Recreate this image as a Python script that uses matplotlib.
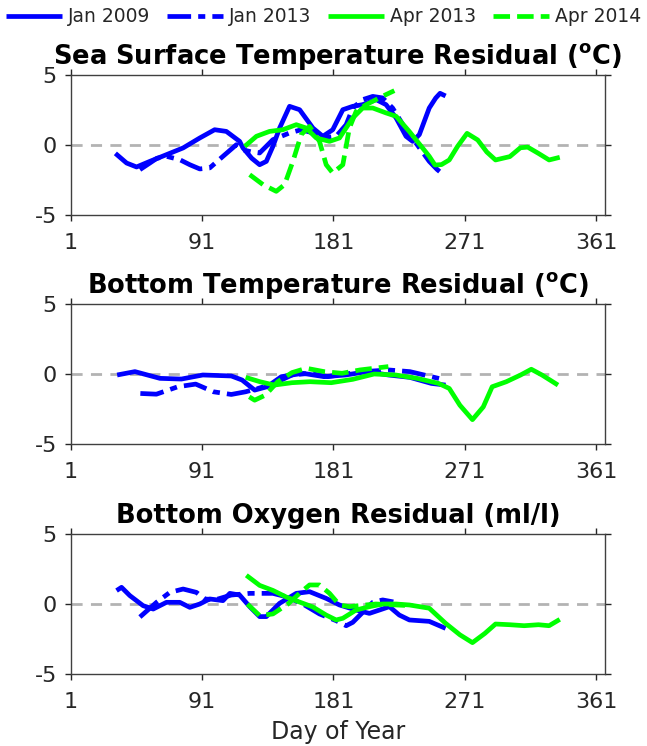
import matplotlib
matplotlib.use("Agg")
import matplotlib.pyplot as plt

# ---------------- data ----------------
xticks = [1, 91, 181, 271, 361]
yticks = [-5, 0, 5]
labels = ["Jan 2009", "Jan 2013", "Apr 2013", "Apr 2014"]
titles = ["Sea Surface Temperature Residual ($^\\mathbf{o}$C)",
          "Bottom Temperature Residual ($^\\mathbf{o}$C)",
          "Bottom Oxygen Residual (ml/l)"]

# Panel 1: sea surface temperature residual
sst_jan09_day = [31.6, 35.5, 39.3, 46.1, 55.2, 66.6, 78.0, 89.4, 99.6, 107.6, 116.7, 119.0,
                 125.0, 130.4, 135.0, 139.5, 144.1, 150.9, 157.8, 166.9, 173.7, 180.5,
                 187.4, 194.2, 201.0, 210.2, 217.0, 223.9, 230.7, 235.2, 239.8, 246.6,
                 251.0, 254.0, 257.8]
sst_jan09_val = [-0.6, -0.95, -1.29, -1.57, -1.17, -0.69, -0.21, 0.50, 1.09, 0.97, 0.26, -0.21,
                 -0.95, -1.41, -1.17, -0.1, 1.21, 2.76, 2.52, 1.21, 0.62, 1.09,
                 2.52, 2.76, 2.88, 3.24, 2.88, 1.93, 0.62, 0.26, 0.74, 2.64,
                 3.35, 3.69, 3.5]

sst_jan13_day = [48.4, 55.2, 60.0, 66.6, 75.7, 82.6, 89.4, 96.2, 105.3, 114.5, 119.0, 125.0,
                 130.4, 139.5, 150.9, 158.9, 166.9, 173.7, 182.8, 189.7, 194.2, 201.0,
                 207.9, 214.7, 221.5, 230.7, 237.5, 246.6, 252.0, 256.6]
sst_jan13_val = [-1.76, -1.29, -0.95, -0.81, -1.05, -1.41, -1.71, -1.64, -0.81, 0.02, -0.34, -0.5,
                 -0.57, 0.38, 0.86, 1.09, 0.86, 0.50, 0.62, 1.45, 2.64, 3.24,
                 3.47, 3.36, 2.64, 1.09, 0.14, -1.17, -1.75, -2.14]

sst_apr13_day = [120.2, 128.2, 137.2, 146.3, 155.5, 162.3, 169.2, 178.3, 185.1, 194.2, 201.0,
                 207.9, 217.0, 223.9, 232.9, 242.0, 246.6, 250.5, 255.0, 260.3, 266.0,
                 272.5, 279.8, 286.0, 292.0, 301.8, 309.0, 314.0, 321.4, 328.7, 336.0]
sst_apr13_val = [-0.1, 0.62, 0.97, 1.09, 1.45, 1.21, 0.50, 0.26, 0.50, 1.93, 2.64,
                 2.64, 2.29, 2.05, 0.97, -0.21, -0.81, -1.43, -1.4, -1.07, -0.1,
                 0.83, 0.36, -0.5, -1.07, -0.83, -0.2, -0.15, -0.6, -1.07, -0.88]

sst_apr14_day = [123.6, 132.7, 141.8, 147.5, 153.2, 158.9, 164.6, 171.4, 176.0, 180.5, 187.4,
                 191.9, 196.5, 203.3, 210.2, 217.0, 222.7]
sst_apr14_val = [-2.12, -2.83, -3.31, -2.83, -1.17, 0.74, 1.33, 0.26, -1.41, -2.0, -1.41,
                 1.21, 2.40, 2.88, 3.24, 3.60, 3.88]

# Panel 2: bottom temperature residual
bt_jan09_day = [32.8, 45.0, 62.1, 76.8, 91.5, 111.0, 118.4, 127.0, 135.5, 145.3, 160.0,
                174.6, 189.3, 204.0, 218.6, 233.3, 248.0, 257.8]
bt_jan09_val = [-0.07, 0.17, -0.31, -0.36, -0.07, -0.14, -0.43, -1.15, -0.91, -0.19, 0.05,
                -0.19, -0.07, 0.17, -0.07, -0.24, -0.67, -0.79]

bt_jan13_day = [48.7, 59.7, 74.4, 86.6, 98.8, 111.0, 120.8, 129.4, 140.4, 152.6, 164.9,
                177.0, 189.3, 201.5, 218.6, 233.3, 248.0, 257.8]
bt_jan13_val = [-1.39, -1.44, -0.91, -0.72, -1.27, -1.46, -1.27, -1.03, -0.67, -0.07, 0.05,
                -0.19, 0.0, 0.17, 0.29, 0.17, -0.19, -0.43]

bt_apr13_day = [120.8, 130.6, 140.4, 152.6, 164.9, 179.5, 194.2, 208.8, 223.6, 238.2, 252.9,
                260.3, 267.6, 276.2, 283.6, 289.7, 299.4, 309.2, 316.5, 323.8, 334.8]
bt_apr13_val = [-0.24, -0.55, -0.79, -0.62, -0.55, -0.62, -0.38, 0.0, -0.07, -0.31, -0.67,
                -1.03, -2.23, -3.26, -2.35, -0.91, -0.55, -0.07, 0.34, -0.07, -0.79]

bt_apr14_day = [123.3, 127.0, 134.3, 142.8, 152.6, 162.4, 174.6, 186.9, 199.1, 208.8, 218.6]
bt_apr14_val = [-1.63, -1.87, -1.51, -0.55, 0.10, 0.41, 0.17, 0.05, 0.29, 0.41, 0.53]

# Panel 3: bottom oxygen residual
ox_jan09_day = [32.4, 35.8, 41.5, 50.6, 57.5, 66.6, 75.7, 82.6, 89.4, 96.2, 105.3, 110.0,
                116.7, 123.6, 130.4, 135.0, 144.1, 155.5, 164.6, 176.0, 185.1, 196.5,
                205.6, 212.5, 219.3, 226.1, 233.0, 246.6, 257.8]
ox_jan09_val = [0.96, 1.19, 0.60, -0.12, -0.36, 0.12, 0.12, -0.24, 0.0, 0.36, 0.24, 0.76,
                0.64, -0.19, -0.90, -0.90, 0.05, 0.76, 0.88, 0.40, -0.07, -0.43,
                -0.67, -0.43, -0.19, -0.79, -1.14, -1.24, -1.74]

ox_jan13_day = [48.4, 59.8, 68.9, 78.0, 87.1, 92.8, 100.0, 111.0, 123.6, 139.5, 148.6,
                160.0, 171.4, 182.8, 189.7, 194.2, 201.0, 207.9, 214.7, 222.0]
ox_jan13_val = [-0.93, 0.12, 0.83, 1.07, 0.83, 0.36, 0.30, 0.64, 0.76, 0.76, 0.52,
                0.0, -0.71, -1.19, -1.55, -1.31, -0.60, 0.12, 0.29, 0.15]

ox_apr13_day = [121.3, 130.4, 139.5, 148.6, 157.7, 166.8, 176.0, 182.8, 187.4, 196.5, 205.6,
                214.7, 223.9, 233.0, 246.6, 257.8, 267.6, 276.2, 284.7, 292.0, 301.8,
                311.6, 321.4, 328.7, 336.0]
ox_apr13_val = [2.05, 1.33, 0.97, 0.50, 0.14, -0.21, -0.79, -1.14, -1.02, -0.43, -0.19,
                0.0, 0.0, -0.07, -0.3, -1.38, -2.2, -2.76, -2.1, -1.43, -1.48,
                -1.55, -1.48, -1.55, -1.10]

ox_apr14_day = [122.0, 130.4, 139.5, 149.8, 157.7, 164.6, 171.4, 178.3, 185.1, 191.9, 200.0,
                210.0, 220.0, 230.0]
ox_apr14_val = [0.0, -0.83, -0.71, 0.0, 0.76, 1.36, 1.36, 0.76, -0.07, -0.19, -0.1,
                0.0, -0.05, -0.1]

panels = [
    [(sst_jan09_day, sst_jan09_val), (sst_jan13_day, sst_jan13_val),
     (sst_apr13_day, sst_apr13_val), (sst_apr14_day, sst_apr14_val)],
    [(bt_jan09_day, bt_jan09_val), (bt_jan13_day, bt_jan13_val),
     (bt_apr13_day, bt_apr13_val), (bt_apr14_day, bt_apr14_val)],
    [(ox_jan09_day, ox_jan09_val), (ox_jan13_day, ox_jan13_val),
     (ox_apr13_day, ox_apr13_val), (ox_apr14_day, ox_apr14_val)],
]

# ---------------- styling ----------------
colors = ["#0000ff", "#0000ff", "#00ff00", "#00ff00"]
styles = ["-", (0, (5, 1.5, 1.5, 1.5)), "-", (0, (3.5, 1.5))]
dark = "#262626"

fig = plt.figure(figsize=(6.47, 7.46), dpi=100)
left, width, height = 0.1093, 0.8258, 0.1877
bottoms = [0.7118, 0.4048, 0.0965]

handles = []
for i, (b, series, title) in enumerate(zip(bottoms, panels, titles)):
    ax = fig.add_axes([left, b, width, height])
    ax.axhline(0, color="#b3b3b3", lw=2, ls=(0, (4, 3)), zorder=1)
    for j, (d, v) in enumerate(series):
        ln, = ax.plot(d, v, color=colors[j], ls=styles[j], lw=3.4,
                      solid_capstyle="butt", dash_capstyle="butt",
                      solid_joinstyle="round", zorder=2)
        if i == 0:
            handles.append(ln)
    ax.set_xlim(1, 367)
    ax.set_ylim(-5, 5)
    ax.set_xticks(xticks)
    ax.set_yticks(yticks)
    ax.set_xticklabels([str(t) for t in xticks])
    ax.set_yticklabels([str(t) for t in yticks])
    ax.tick_params(direction="out", length=4, width=1, colors=dark,
                   labelsize=16, labelcolor=dark, top=True, right=True)
    ax.tick_params(axis="x", pad=9)
    ax.tick_params(axis="y", pad=6)
    for s in ax.spines.values():
        s.set_color("#404040")
        s.set_linewidth(1)
    ax.set_title(title, fontsize=18.5, fontweight="bold", color="black", pad=8)
    if i == 2:
        ax.set_xlabel("Day of Year", fontsize=17, color=dark, labelpad=6)

fig.legend(handles, labels, loc="center", bbox_to_anchor=(0.5, 1 - 17 / 746),
           ncol=4, frameon=False, fontsize=13.5, handlelength=3.0,
           handletextpad=0.3, columnspacing=0.9, labelcolor=dark)

fig.savefig("out.png", dpi=100)
